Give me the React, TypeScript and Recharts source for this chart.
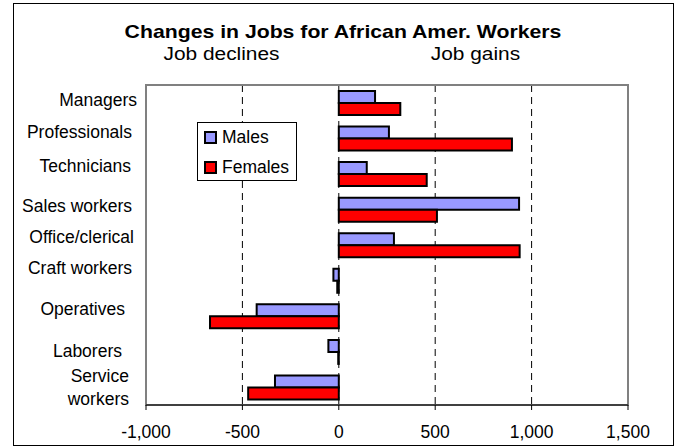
import React from "react";
import {
  BarChart,
  Bar,
  XAxis,
  YAxis,
  CartesianGrid,
  ReferenceArea,
  Legend,
} from "recharts";

const categories = [
  "Managers",
  "Professionals",
  "Technicians",
  "Sales workers",
  "Office/clerical",
  "Craft workers",
  "Operatives",
  "Laborers",
  "Service workers",
];
const males = [188, 260, 145, 935, 286, -28, -426, -54, -331];
const females = [319, 898, 456, 509, 938, -8, -668, -3, -470];
const xTicks = [-1000, -500, 0, 500, 1000, 1500];
const seriesNames = ["Males", "Females"];

// layout tweaks for the category labels (not data)
const labelDy = [-2.8, -6.7, -8, -3.6, -8.4, -12.7, -7.2, -1.1, 0];
const labelDx = [5, 0, -1, 0, 2, 0, -7, -10, -3];
const wrapped: Record<string, string[]> = {
  "Service workers": ["Service", "workers"],
};

const data = categories.map((name, i) => ({
  name,
  males: males[i],
  females: females[i],
}));

const FONT = '"Liberation Sans", Arial, sans-serif';
const MALE_FILL = "#9999FF";
const FEMALE_FILL = "#FF0000";

const CatTick = (props: any) => {
  const { y, payload, index } = props;
  const name = payload.value as string;
  const lines = wrapped[name] ?? [name];
  const fs = 17.5;
  const lh = 23;
  const dy = labelDy[index] ?? 0;
  const dx = labelDx[index] ?? 0;
  const base = y + dy - ((lines.length - 1) * lh) / 2 + 0.358 * fs;
  return (
    <text textAnchor="end" fontFamily={FONT} fontSize={fs} fill="#000">
      {lines.map((l, i) => (
        <tspan key={i} x={132 + dx} y={base + i * lh}>
          {l}
        </tspan>
      ))}
    </text>
  );
};

const LegendBox = () => (
  <div
    style={{
      width: 100,
      height: 59,
      border: "1px solid #000",
      background: "#fff",
      boxSizing: "border-box",
      fontFamily: FONT,
      fontSize: 17.5,
      position: "relative",
    }}
  >
    {seriesNames.map((n, i) => (
      <div
        key={n}
        style={{
          position: "absolute",
          left: 6,
          top: 4 + i * 30,
          display: "flex",
          alignItems: "center",
          height: 20,
          lineHeight: "20px",
        }}
      >
        <span
          style={{
            display: "inline-block",
            width: 9,
            height: 9,
            border: "2px solid #000",
            background: i === 0 ? MALE_FILL : FEMALE_FILL,
            marginRight: 5,
          }}
        />
        <span>{n}</span>
      </div>
    ))}
  </div>
);

export default function App() {
  return (
    <div
      style={{
        position: "absolute",
        left: 0,
        top: 0,
        width: 680,
        height: 448,
        background: "#fff",
      }}
    >
      <BarChart
        width={680}
        height={448}
        data={data}
        layout="vertical"
        margin={{ top: 85, right: 52, bottom: 3, left: 0 }}
        barGap={0}
        barSize={12}
      >
        <CartesianGrid
          horizontal={false}
          vertical={true}
          stroke="#000"
          strokeDasharray="7 5"
        />
        <XAxis
          type="number"
          domain={[-1000, 1500]}
          ticks={xTicks}
          allowDataOverflow
          height={40}
          tickSize={5}
          tickMargin={16}
          stroke="#000"
          tick={{ fill: "#000", fontFamily: FONT, fontSize: 17.5 }}
          tickFormatter={(v: number) => v.toLocaleString("en-US")}
        />
        <YAxis
          type="category"
          dataKey="name"
          width={146}
          axisLine={false}
          tickLine={false}
          tick={<CatTick />}
          interval={0}
        />
        <ReferenceArea
          x1={-1000}
          x2={1500}
          fill="none"
          stroke="#808080"
          strokeWidth={2}
          ifOverflow="visible"
        />
        <Legend
          layout="horizontal"
          verticalAlign="middle"
          align="center"
          content={<LegendBox />}
          wrapperStyle={{ position: "absolute", left: 197, top: 122, width: 100, height: 59 }}
        />
        <Bar
          dataKey="males"
          name="Males"
          fill={MALE_FILL}
          stroke="#000"
          strokeWidth={2}
          isAnimationActive={false}
        />
        <Bar
          dataKey="females"
          name="Females"
          fill={FEMALE_FILL}
          stroke="#000"
          strokeWidth={2}
          isAnimationActive={false}
        />
      </BarChart>
      <svg
        width={680}
        height={448}
        style={{ position: "absolute", left: 0, top: 0, pointerEvents: "none" }}
      >
        <rect x={13.5} y={3.5} width={660} height={442} fill="none" stroke="#000" strokeWidth={1} />
        <text
          x={343}
          y={37.7}
          textAnchor="middle"
          fontFamily={FONT}
          fontSize={18}
          fontWeight="bold"
          fill="#000"
          transform="translate(343,0) scale(1.18,1) translate(-343,0)"
        >
          Changes in Jobs for African Amer. Workers
        </text>
        <text
          x={221.5}
          y={60}
          textAnchor="middle"
          fontFamily={FONT}
          fontSize={18.5}
          fill="#000"
          transform="translate(221.5,0) scale(1.13,1) translate(-221.5,0)"
        >
          Job declines
        </text>
        <text
          x={475.5}
          y={60}
          textAnchor="middle"
          fontFamily={FONT}
          fontSize={18.5}
          fill="#000"
          transform="translate(475.5,0) scale(1.13,1) translate(-475.5,0)"
        >
          Job gains
        </text>
      </svg>
    </div>
  );
}
